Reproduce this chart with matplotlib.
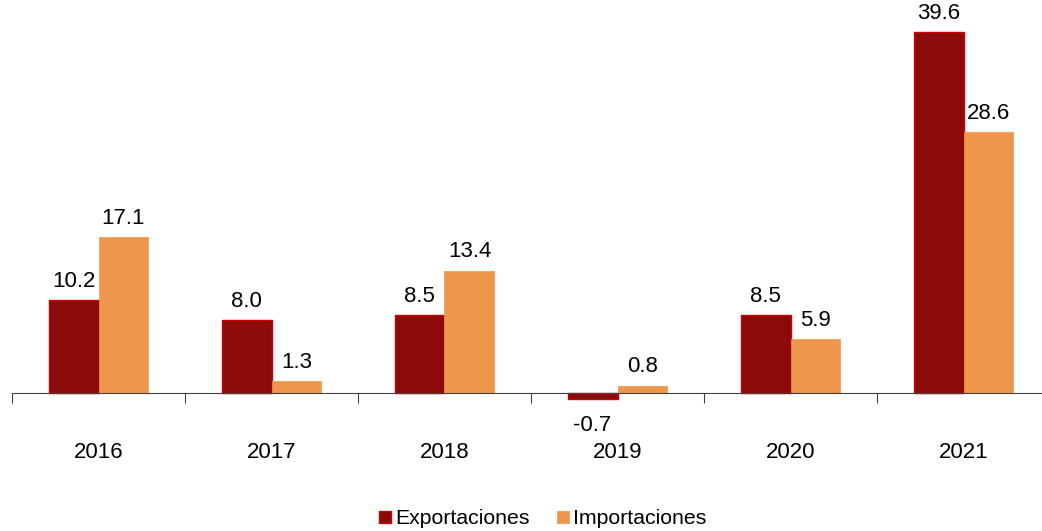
import numpy as np
import matplotlib.pyplot as plt

plt.rcParams['font.family'] = ['Liberation Sans', 'DejaVu Sans']

# Data
years = ['2016', '2017', '2018', '2019', '2020', '2021']
exportaciones = [10.2, 8.0, 8.5, -0.7, 8.5, 39.6]
importaciones = [17.1, 1.3, 13.4, 0.8, 5.9, 28.6]

col_exp = '#8B0A0A'
col_imp = '#EE964B'

W, H = 1042, 531
step = 173.0  # px per category
fig = plt.figure(figsize=(W / 100, H / 100), dpi=100)
# axes: x from 12 px to right edge, y from 10 px to ~411 px (top-down)
ax = fig.add_axes([12 / W, (H - 411.2) / H, (W - 12) / W, (411.2 - 10) / H])

x = np.arange(len(years))
w = 0.289
b1 = ax.bar(x - w / 2, exportaciones, w, color=col_exp, edgecolor='#D00000', linewidth=1, zorder=2)
b2 = ax.bar(x + w / 2, importaciones, w, color=col_imp, edgecolor=col_imp, linewidth=0.5, zorder=2)

# value labels
for bars, vals in ((b1, exportaciones), (b2, importaciones)):
    for rect, v in zip(bars, vals):
        cx = rect.get_x() + rect.get_width() / 2
        if v >= 0:
            ax.annotate(f'{v:.1f}', (cx, v), xytext=(0, 6), textcoords='offset points',
                        ha='center', va='bottom', fontsize=16)
        else:
            ax.annotate(f'{v:.1f}', (cx, v), xytext=(0, -11), textcoords='offset points',
                        ha='center', va='top', fontsize=16)

# axis line at zero with ticks between categories
for s in ['top', 'right', 'left']:
    ax.spines[s].set_visible(False)
ax.spines['bottom'].set_position(('data', 0))
ax.spines['bottom'].set_color('#404040')
ax.spines['bottom'].set_zorder(3)
ax.set_xticks(np.arange(-0.5, 6, 1))
ax.set_xticklabels([])
ax.tick_params(axis='x', length=7, color='#404040', direction='out')
ax.set_yticks([])

ax.set_xlim(-0.5, -0.5 + (W - 12) / step)
ax.set_ylim(-2, 42)

# category labels
for i, yr in enumerate(years):
    fig.text((12 + (i + 0.5) * step) / W, 1 - 453 / H, yr, ha='center', va='center', fontsize=16)

fig.legend([b1, b2], ['Exportaciones', 'Importaciones'], loc='center',
           bbox_to_anchor=(543 / W, 1 - 519 / H), ncol=2, frameon=False, fontsize=15.3,
           handlelength=0.55, handleheight=0.55, handletextpad=0.2, columnspacing=1.3)

fig.savefig('out.png', dpi=100)
